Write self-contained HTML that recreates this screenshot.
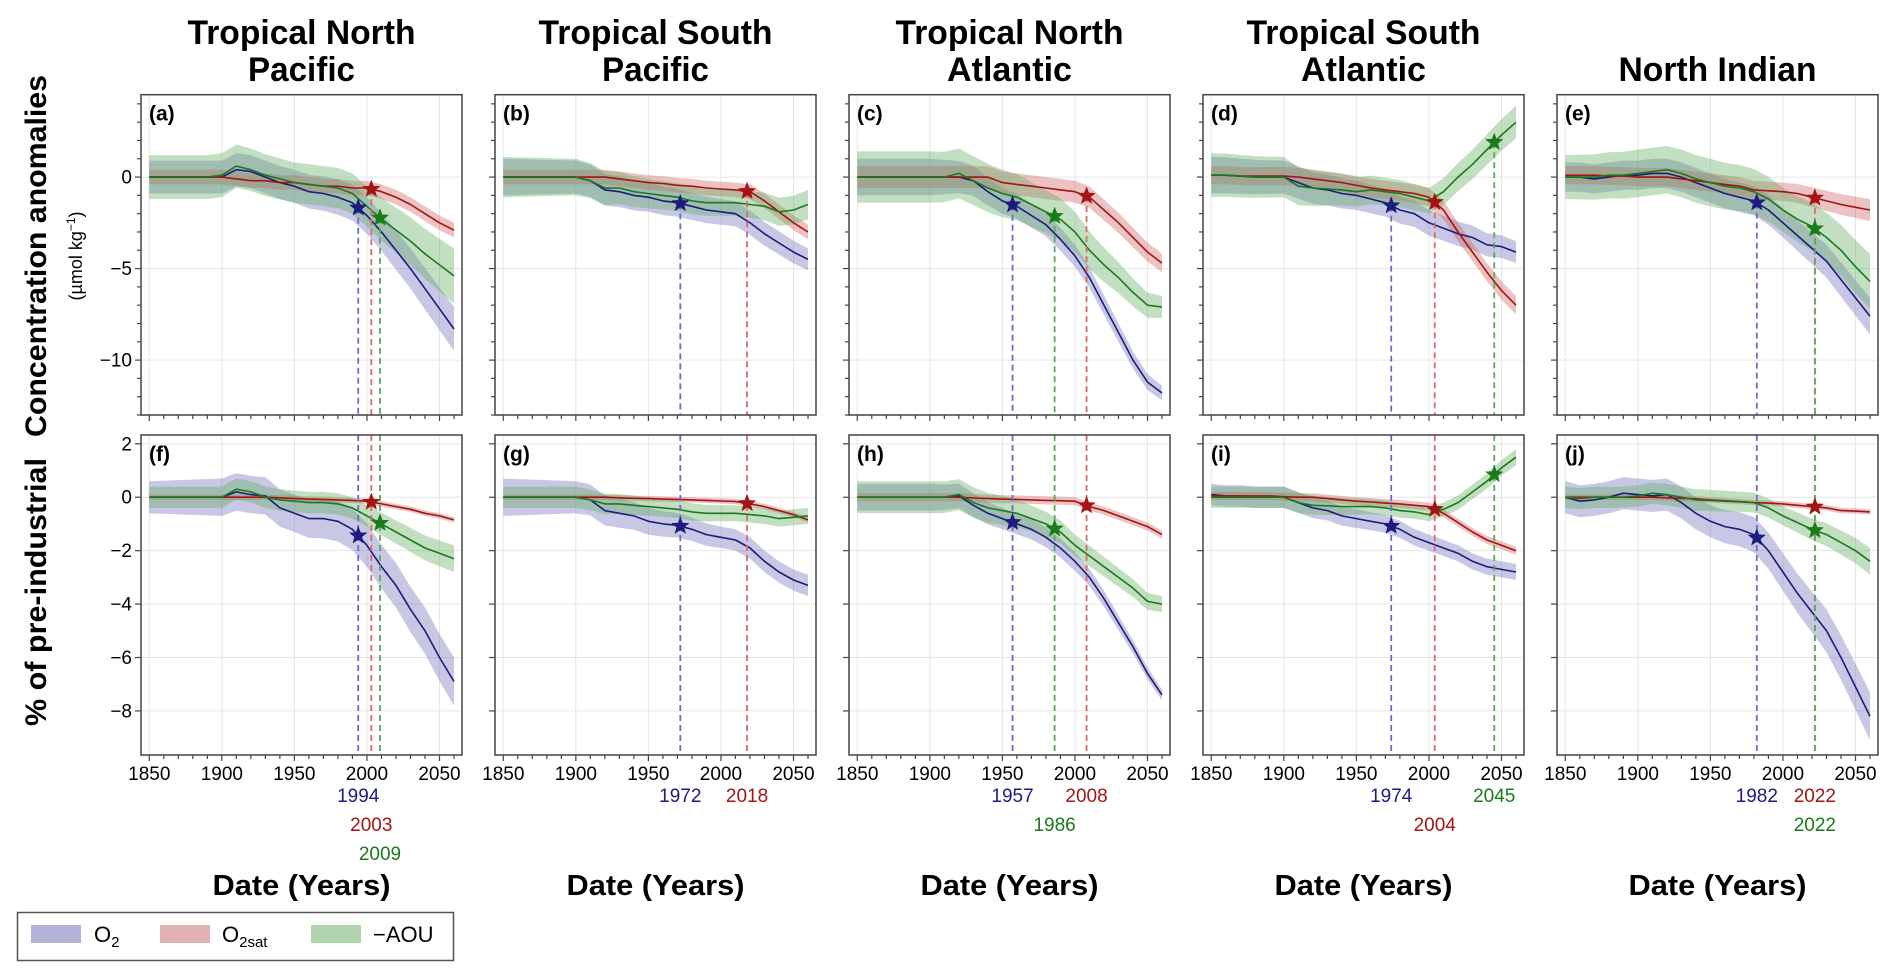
<!DOCTYPE html>
<html><head><meta charset="utf-8">
<style>
html,body{margin:0;padding:0;background:#fff;}
svg{display:block;font-family:"Liberation Sans",sans-serif;}
</style></head>
<body>
<svg id="fig" width="1892" height="980" viewBox="0 0 1892 980" xmlns="http://www.w3.org/2000/svg">
<g id="titles"></g>
<text transform="translate(46,256) rotate(-90)" text-anchor="middle" font-size="30" font-weight="bold" textLength="362" lengthAdjust="spacingAndGlyphs">Concentration anomalies</text>
<text transform="translate(82,256) rotate(-90)" text-anchor="middle" font-size="18">(µmol kg<tspan baseline-shift="super" font-size="12">−1</tspan>)</text>
<text transform="translate(46,592) rotate(-90)" text-anchor="middle" font-size="30" font-weight="bold" textLength="268" lengthAdjust="spacingAndGlyphs">% of pre-industrial</text>
<g id="panels"></g>
<g>
<rect x="17.5" y="912.5" width="436" height="48" fill="#fff" stroke="#555" stroke-width="1.5"/>
<rect x="31" y="925" width="50" height="18" fill="#b3b3d9"/>
<text x="94" y="942" font-size="22">O<tspan font-size="15" dy="5">2</tspan></text>
<rect x="160" y="925" width="50" height="18" fill="#e3b1b1"/>
<text x="222" y="942" font-size="22">O<tspan font-size="15" dy="5">2sat</tspan></text>
<rect x="311" y="925" width="50" height="18" fill="#b0d3b0"/>
<text x="373" y="942" font-size="22">−AOU</text>
</g>
</svg>
<script>
// ---------- data ----------
const YEARS = [1850,1860,1870,1880,1890,1900,1910,1920,1930,1940,1950,1960,1970,1980,1990,2000,2010,2020,2030,2040,2050,2060];
const BAND_YEARS = [1850,1900,1950,2000,2060];
const REGIONS = ["Tropical North|Pacific","Tropical South|Pacific","Tropical North|Atlantic","Tropical South|Atlantic","|North Indian"];
const TITLE_W1 = [228,234,228,234,0];
const TITLE_W2 = [107,107,125,125,198];
const TOP_LETTERS = ["(a)","(b)","(c)","(d)","(e)"];
const BOT_LETTERS = ["(f)","(g)","(h)","(i)","(j)"];
const X_TICKS = [1850,1900,1950,2000,2050];
const TOP_Y_TICKS = [0,-5,-10];
const BOT_Y_TICKS = [2,0,-2,-4,-6,-8];

const topO2 = [
[0,0,0,0,0,0,0.4,0.3,0,-0.3,-0.5,-0.8,-0.9,-1.1,-1.4,-2.1,-3.0,-4.0,-5.0,-6.1,-7.2,-8.3],
[0,0,0,0,0,0,-0.2,-0.7,-0.8,-1.0,-1.1,-1.3,-1.4,-1.6,-1.8,-1.9,-2.0,-2.5,-3.1,-3.6,-4.1,-4.5],
[0,0,0,0,0,0,0,0,-0.2,-0.8,-1.3,-1.6,-2.1,-2.6,-3.4,-4.3,-5.5,-7.0,-8.5,-10.0,-11.2,-11.8],
[0.1,0.1,0.05,0,0,0,-0.3,-0.6,-0.7,-0.9,-1.0,-1.2,-1.4,-1.8,-2.0,-2.5,-2.8,-3.1,-3.3,-3.7,-3.8,-4.1],
[0,0,-0.1,0,0.1,0.1,0.2,0.2,0,-0.3,-0.6,-0.9,-1.1,-1.3,-1.8,-2.5,-3.2,-3.9,-4.6,-5.6,-6.6,-7.6]];
const topSat = [
[0,0,0,0,0,0,-0.1,-0.2,-0.2,-0.3,-0.3,-0.4,-0.5,-0.5,-0.6,-0.6,-0.8,-1.1,-1.5,-2.0,-2.5,-2.9],
[0,0,0,0,0,0,0,0,-0.1,-0.2,-0.3,-0.35,-0.45,-0.5,-0.6,-0.65,-0.7,-0.8,-1.3,-1.9,-2.5,-3.0],
[0,0,0,0,0,0,0,0,0,0,-0.3,-0.4,-0.5,-0.6,-0.7,-0.8,-1.1,-1.8,-2.5,-3.3,-4.1,-4.7],
[0.1,0.1,0.05,0.05,0.05,0.05,0,-0.1,-0.2,-0.3,-0.45,-0.6,-0.7,-0.8,-0.9,-1.1,-1.8,-3.0,-4.1,-5.2,-6.2,-7.0],
[0.1,0.1,0.1,0.05,0.05,0,0,0,-0.1,-0.2,-0.3,-0.4,-0.5,-0.7,-0.75,-0.8,-0.9,-1.1,-1.3,-1.5,-1.65,-1.8]];
const topAou = [
[0,0,0,0,0,0.1,0.6,0.4,0.1,-0.1,-0.3,-0.4,-0.5,-0.6,-0.9,-1.6,-2.3,-2.9,-3.5,-4.2,-4.8,-5.4],
[0,0,0,0,0,0,-0.2,-0.6,-0.6,-0.8,-0.9,-1.0,-1.1,-1.3,-1.4,-1.4,-1.4,-1.5,-1.6,-1.9,-1.8,-1.5],
[0,0,0,0,0,0,0,0.2,-0.2,-0.6,-0.9,-1.1,-1.5,-1.9,-2.3,-3.0,-4.0,-4.8,-5.5,-6.3,-7.0,-7.1],
[0.1,0.1,0.05,0,0,0,-0.5,-0.6,-0.65,-0.7,-0.8,-0.7,-0.8,-0.9,-1.1,-1.3,-0.8,0,0.7,1.5,2.3,3.0],
[0,0,0,0.1,0.1,0.2,0.3,0.4,0.2,-0.1,-0.3,-0.5,-0.6,-0.8,-1.2,-1.8,-2.3,-2.7,-3.3,-4.0,-4.9,-5.7]];
const botO2 = [
[0,0,0,0,0,0,0.2,0.1,0.05,-0.4,-0.6,-0.8,-0.8,-0.9,-1.2,-1.8,-2.6,-3.3,-4.2,-5.0,-6.0,-6.9],
[0,0,0,0,0,0,-0.1,-0.5,-0.6,-0.7,-0.9,-1.0,-1.05,-1.2,-1.4,-1.5,-1.6,-1.9,-2.4,-2.8,-3.1,-3.3],
[0,0,0,0,0,0,0,0.05,-0.3,-0.6,-0.8,-1.0,-1.2,-1.5,-1.9,-2.4,-3.0,-3.8,-4.7,-5.6,-6.6,-7.4],
[0.1,0.05,0.05,0,0,0,-0.2,-0.4,-0.5,-0.7,-0.8,-0.9,-1.0,-1.2,-1.5,-1.7,-1.9,-2.1,-2.4,-2.6,-2.7,-2.8],
[0,-0.15,-0.1,0,0.15,0.1,0.05,0.1,-0.2,-0.6,-0.9,-1.1,-1.2,-1.4,-2.0,-2.8,-3.6,-4.3,-5.0,-6.0,-7.1,-8.2]];
const botSat = [
[0,0,0,0,0,0,0,0,0,-0.02,-0.05,-0.07,-0.08,-0.1,-0.12,-0.15,-0.25,-0.35,-0.45,-0.6,-0.7,-0.85],
[0,0,0,0,0,0,0,0,-0.02,-0.04,-0.05,-0.07,-0.08,-0.1,-0.12,-0.14,-0.16,-0.25,-0.35,-0.5,-0.65,-0.85],
[0,0,0,0,0,0,0,0,-0.03,-0.05,-0.07,-0.08,-0.1,-0.12,-0.13,-0.15,-0.35,-0.5,-0.7,-0.9,-1.1,-1.4],
[0.05,0.05,0.05,0.05,0.05,0.02,0,0,-0.05,-0.1,-0.15,-0.18,-0.22,-0.25,-0.3,-0.35,-0.6,-0.95,-1.3,-1.6,-1.8,-2.0],
[0,0,0,0,0,0,0,-0.02,-0.04,-0.06,-0.1,-0.13,-0.16,-0.2,-0.22,-0.25,-0.3,-0.35,-0.4,-0.5,-0.52,-0.55]];
const botAou = [
[0,0,0,0,0,0,0.3,0.2,0,-0.1,-0.15,-0.2,-0.2,-0.25,-0.4,-0.7,-1.0,-1.3,-1.6,-1.9,-2.1,-2.3],
[0,0,0,0,0,0,-0.1,-0.25,-0.25,-0.3,-0.35,-0.4,-0.45,-0.55,-0.6,-0.6,-0.6,-0.65,-0.7,-0.8,-0.75,-0.7],
[0,0,0,0,0,0,0,0.1,-0.2,-0.4,-0.5,-0.6,-0.8,-1.0,-1.3,-1.8,-2.2,-2.6,-3.0,-3.4,-3.9,-4.0],
[0,0,0,0,0,0,-0.2,-0.3,-0.32,-0.35,-0.35,-0.35,-0.4,-0.5,-0.55,-0.65,-0.45,-0.2,0.2,0.6,1.1,1.5],
[0,-0.05,0,0,0,0.05,0.15,0.1,0,-0.1,-0.12,-0.15,-0.17,-0.2,-0.4,-0.7,-0.95,-1.2,-1.4,-1.7,-2.0,-2.4]];
const topBandO2 = [[0.9,0.9,0.9,1.0,1.2],[1.0,0.9,0.8,0.7,0.6],[1.0,1.0,0.7,0.6,0.4],[1.0,0.9,0.8,0.7,0.6],[0.8,0.8,0.8,0.8,1.0]];
const topBandSat = [[0.4,0.4,0.4,0.4,0.4],[0.4,0.4,0.4,0.4,0.4],[0.6,0.6,0.6,0.6,0.5],[0.5,0.5,0.5,0.5,0.5],[0.5,0.5,0.5,0.5,0.6]];
const topBandAou = [[1.2,1.2,1.1,1.1,1.5],[1.1,1.0,0.8,0.7,0.8],[1.4,1.4,1.3,1.1,0.6],[1.2,1.1,0.8,0.7,0.9],[1.2,1.3,1.3,1.2,1.5]];
const botBandO2 = [[0.6,0.7,0.7,0.8,0.9],[0.7,0.6,0.5,0.4,0.4],[0.5,0.5,0.4,0.35,0.2],[0.4,0.4,0.35,0.3,0.3],[0.6,0.6,0.6,0.7,0.9]];
const botBandSat = [[0.1,0.1,0.1,0.1,0.1],[0.1,0.1,0.1,0.1,0.1],[0.15,0.15,0.15,0.15,0.15],[0.15,0.15,0.15,0.15,0.15],[0.1,0.1,0.1,0.1,0.1]];
const botBandAou = [[0.4,0.4,0.4,0.4,0.5],[0.4,0.4,0.35,0.3,0.3],[0.6,0.6,0.55,0.4,0.3],[0.4,0.4,0.3,0.25,0.3],[0.4,0.4,0.4,0.35,0.5]];
const emergeO2  = [1994,1972,1957,1974,1982];
const emergeSat = [2003,2018,2008,2004,2022];
const emergeAou = [2009,null,1986,2045,2022];
const rowO2  = [0,0,0,0,0];
const rowSat = [1,0,0,1,0];
const rowAou = [2,null,1,0,1];

// ---------- layout ----------
const NS = "http://www.w3.org/2000/svg";
const PW = 321, TOP = {y0:94.7, y1:415, vmin:-13, vmax:4.5}, BOT = {y0:435, y1:755, vmin:-9.65, vmax:2.33};
const XMIN = 1844.3, XMAX = 2065.5;
const COL = {
 o2:{line:"#1c1c80", band:"rgba(110,110,185,0.38)", dash:"#6b6bc8"},
 sat:{line:"#a31515", band:"rgba(205,95,95,0.38)", dash:"#d96a6a"},
 aou:{line:"#1b7a1b", band:"rgba(95,170,95,0.38)", dash:"#5aa85a"}};
function left(i){return 141 + i*354;}
function xs(i,yr){return left(i) + (yr-XMIN)/(XMAX-XMIN)*PW;}
function ys(ax,v){return ax.y1 - (v-ax.vmin)/(ax.vmax-ax.vmin)*(ax.y1-ax.y0);}
function interp(xsArr, vals, x){
  if(x<=xsArr[0]) return vals[0];
  for(let k=1;k<xsArr.length;k++){ if(x<=xsArr[k]){const t=(x-xsArr[k-1])/(xsArr[k]-xsArr[k-1]);return vals[k-1]+t*(vals[k]-vals[k-1]);} }
  return vals[vals.length-1];
}
function mk(tag, attrs, parent){const e=document.createElementNS(NS,tag);for(const k in attrs)e.setAttribute(k,attrs[k]);parent.appendChild(e);return e;}
function starPath(cx,cy,r){let d="";for(let k=0;k<10;k++){const a=-Math.PI/2+k*Math.PI/5;const rr=k%2?r*0.42:r;d+=(k?"L":"M")+(cx+rr*Math.cos(a)).toFixed(1)+","+(cy+rr*Math.sin(a)).toFixed(1);}return d+"Z";}

const titles = document.getElementById("titles");
REGIONS.forEach((t,i)=>{
  const [l1,l2] = t.split("|");
  const cx = left(i)+PW/2;
  if(l1){const e=mk("text",{x:cx,y:44,"text-anchor":"middle","font-size":"34","font-weight":"bold",textLength:TITLE_W1[i],lengthAdjust:"spacingAndGlyphs"},titles);e.textContent=l1;
    
    }
  const e2=mk("text",{x:cx,y:81,"text-anchor":"middle","font-size":"34","font-weight":"bold",textLength:TITLE_W2[i],lengthAdjust:"spacingAndGlyphs"},titles);e2.textContent=l2;
  
  
});

const panels = document.getElementById("panels");
function drawPanel(i, ax, o2, sat, aou, bO2, bSat, bAou, letter, isTop){
  const g = mk("g",{},panels);
  
  
  const L=left(i), R=L+PW;
  mk("rect",{x:L,y:ax.y0,width:PW,height:ax.y1-ax.y0,fill:"#fff"},g);
  X_TICKS.forEach(yr=>{const gl=mk("line",{x1:xs(i,yr),x2:xs(i,yr),y1:ax.y0,y2:ax.y1,stroke:"#e6e6e6","stroke-width":1},g);
    
    });
  const yt = isTop?TOP_Y_TICKS:BOT_Y_TICKS;
  yt.forEach(v=>{const gl=mk("line",{x1:L,x2:R,y1:ys(ax,v),y2:ys(ax,v),stroke:"#e6e6e6","stroke-width":1},g);
    
    });
  const series=[["o2",o2,bO2],["sat",sat,bSat],["aou",aou,bAou]];
  series.forEach(([k,vals,bw])=>{
    let up="",dn="";
    const pts=[];
    for(let yr=1850;yr<=2060;yr+=2){pts.push(yr);}
    pts.forEach((yr,j)=>{const v=interp(YEARS,vals,yr),w=interp(BAND_YEARS,bw,yr);up+=(j?"L":"M")+xs(i,yr).toFixed(1)+","+ys(ax,v+w).toFixed(1);});
    pts.slice().reverse().forEach(yr=>{const v=interp(YEARS,vals,yr),w=interp(BAND_YEARS,bw,yr);dn+="L"+xs(i,yr).toFixed(1)+","+ys(ax,v-w).toFixed(1);});
    const p=mk("path",{d:up+dn+"Z",fill:COL[k].band,stroke:"none"},g);
    
    
  });
  series.forEach(([k,vals])=>{
    const d=YEARS.map((yr,j)=>(j?"L":"M")+xs(i,yr).toFixed(1)+","+ys(ax,vals[j]).toFixed(1)).join("");
    const p=mk("path",{d:d,fill:"none",stroke:COL[k].line,"stroke-width":1.6,"stroke-linejoin":"round"},g);
    
    
  });
  const em=[["o2",emergeO2[i],o2],["sat",emergeSat[i],sat],["aou",emergeAou[i],aou]];
  em.forEach(([k,yr,vals])=>{
    if(yr===null) return;
    const x=xs(i,yr), v=interp(YEARS,vals,yr);
    const yStart = isTop? ys(ax,v) : ax.y0;
    const dl=mk("line",{x1:x,x2:x,y1:yStart,y2:ax.y1,stroke:COL[k].dash,"stroke-width":1.8,"stroke-dasharray":"6,4"},g);
    
    
  });
  em.forEach(([k,yr,vals])=>{
    if(yr===null) return;
    const x=xs(i,yr), v=interp(YEARS,vals,yr);
    const st=mk("path",{d:starPath(x,ys(ax,v),9),fill:COL[k].line,stroke:COL[k].line,"stroke-width":0.5},g);
    
    
  });
  mk("rect",{x:L,y:ax.y0,width:PW,height:ax.y1-ax.y0,fill:"none",stroke:"#444","stroke-width":1.5},g);
  for(let yr=1850;yr<=2060;yr+=10){
    const major=yr%50===0;
    const t=mk("line",{x1:xs(i,yr),x2:xs(i,yr),y1:ax.y1,y2:ax.y1+(major?6:4),stroke:"#444","stroke-width":1.2},g);
    
    
  }
  if(isTop){ for(let v=-13;v<=4;v++){const major=v%5===0;
      const t=mk("line",{x1:L,x2:L-(major?6:4),y1:ys(ax,v),y2:ys(ax,v),stroke:"#444","stroke-width":1.2},g);
      
      }
  } else { BOT_Y_TICKS.forEach(v=>{const t=mk("line",{x1:L,x2:L-6,y1:ys(ax,v),y2:ys(ax,v),stroke:"#444","stroke-width":1.2},g);
      
      }); }
  if(i===0){ yt.forEach(v=>{const t=mk("text",{x:L-9,y:ys(ax,v)+6.5,"text-anchor":"end","font-size":"19"},g);t.textContent=v<0?"−"+(-v):String(v);
      
      }); }
  const lt=mk("text",{x:L+8,y:ax.y0+26,"font-size":"21","font-weight":"bold"},g);lt.textContent=letter;
  
  
  if(!isTop){
    X_TICKS.forEach(yr=>{const t=mk("text",{x:xs(i,yr),y:780,"text-anchor":"middle","font-size":"19"},g);t.textContent=String(yr);
      
      });
    const yl=[["o2",emergeO2[i],rowO2[i]],["sat",emergeSat[i],rowSat[i]],["aou",emergeAou[i],rowAou[i]]];
    yl.forEach(([k,yr,row])=>{ if(yr===null) return;
      const t=mk("text",{x:xs(i,yr),y:802+row*29,"text-anchor":"middle","font-size":"19",fill:COL[k].line},g);t.textContent=String(yr);
      
      });
    const xt=mk("text",{x:L+PW/2,y:895,"text-anchor":"middle","font-size":"29","font-weight":"bold",textLength:"178",lengthAdjust:"spacingAndGlyphs"},g);xt.textContent="Date (Years)";
    
    
  }
}
for(let i=0;i<5;i++){
  drawPanel(i,TOP,topO2[i],topSat[i],topAou[i],topBandO2[i],topBandSat[i],topBandAou[i],TOP_LETTERS[i],true);
  drawPanel(i,BOT,botO2[i],botSat[i],botAou[i],botBandO2[i],botBandSat[i],botBandAou[i],BOT_LETTERS[i],false);
}
</script>
</body></html>
